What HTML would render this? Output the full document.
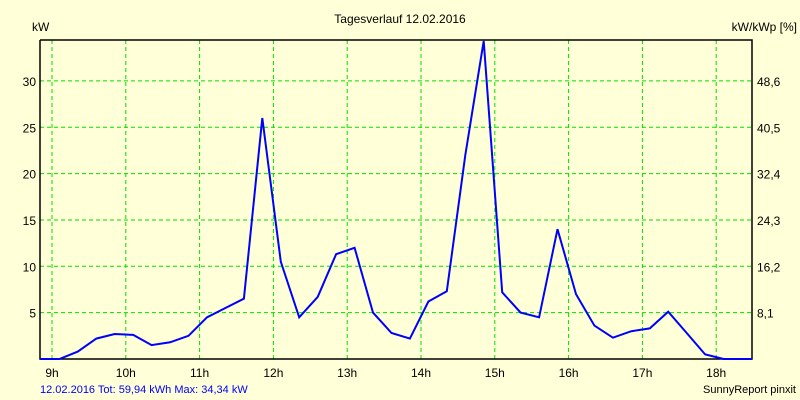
<!DOCTYPE html>
<html><head><meta charset="utf-8"><style>
body{margin:0;background:#ffffd8;}
svg{display:block;font-family:"Liberation Sans",sans-serif;font-size:12px;}
</style></head><body>
<svg width="800" height="400">
<rect width="800" height="400" fill="#ffffd8"/>
<text x="400" y="23" text-anchor="middle">Tagesverlauf 12.02.2016</text>
<text x="32" y="31">kW</text>
<text x="797" y="31" text-anchor="end">kW/kWp [%]</text>
<g id="grid"></g>
<g id="axes"></g>
<polyline id="series" fill="none" stroke="#0000ff" stroke-width="2"/>
<text x="40" y="393" fill="#0000ff" font-size="11">12.02.2016 Tot: 59,94 kWh Max: 34,34 kW</text>
<text x="796" y="393" text-anchor="end" font-size="11">SunnyReport pinxit</text>
</svg>
<script>
const hourTicks=[9,10,11,12,13,14,15,16,17,18];
const leftTicks=[5,10,15,20,25,30];
const rightTickLabels=["8,1","16,2","24,3","32,4","40,5","48,6"];
const times=[8.84,9.1,9.35,9.6,9.85,10.1,10.35,10.6,10.85,11.1,11.35,11.6,11.85,12.1,12.35,12.6,12.85,13.1,13.35,13.6,13.85,14.1,14.35,14.6,14.85,15.1,15.35,15.6,15.85,16.1,16.35,16.6,16.85,17.1,17.35,17.6,17.85,18.1,18.6];
const values=[0,0,0.8,2.2,2.7,2.6,1.5,1.8,2.5,4.5,5.5,6.5,26,10.5,4.5,6.7,11.3,12,5,2.8,2.2,6.2,7.3,22,34.3,7.2,5,4.5,14,7,3.6,2.3,3,3.3,5.1,2.8,0.5,0,0];
const L=40,R=752,T=40,B=359;
const x=h=>52+(h-9)*73.8;
const y=v=>B-v*9.27;
const NS="http://www.w3.org/2000/svg";
const grid=document.getElementById('grid'),axes=document.getElementById('axes');
function mk(tag,attrs,parent){const e=document.createElementNS(NS,tag);for(const k in attrs)e.setAttribute(k,attrs[k]);parent.appendChild(e);return e;}
hourTicks.forEach(h=>{
 const l=mk('line',{x1:x(h),x2:x(h),y1:T,y2:B,stroke:'#00e000','stroke-dasharray':'4,3'},grid);
 
 
 const t=mk('text',{x:x(h),y:B+18,'text-anchor':'middle'},axes);t.textContent=h+'h';
 
 
});
leftTicks.forEach((v,i)=>{
 const l=mk('line',{x1:L,x2:R,y1:y(v),y2:y(v),stroke:'#00e000','stroke-dasharray':'4,3'},grid);
 
 
 const t=mk('text',{x:L-4,y:y(v)+5,'text-anchor':'end'},axes);t.textContent=v;
 
 
 const t2=mk('text',{x:R+5,y:y(v)+5},axes);t2.textContent=rightTickLabels[i];
 
 
});
const frame=mk('polyline',{points:`${L},${T} ${L},${B} ${R},${B} ${R},${T} ${L},${T}`,fill:'none',stroke:'#000','stroke-width':1.5},axes);


document.getElementById('series').setAttribute('points',times.map((t,i)=>Math.min(x(t),R).toFixed(1)+','+y(values[i]).toFixed(1)).join(' '));
</script>
</body></html>
